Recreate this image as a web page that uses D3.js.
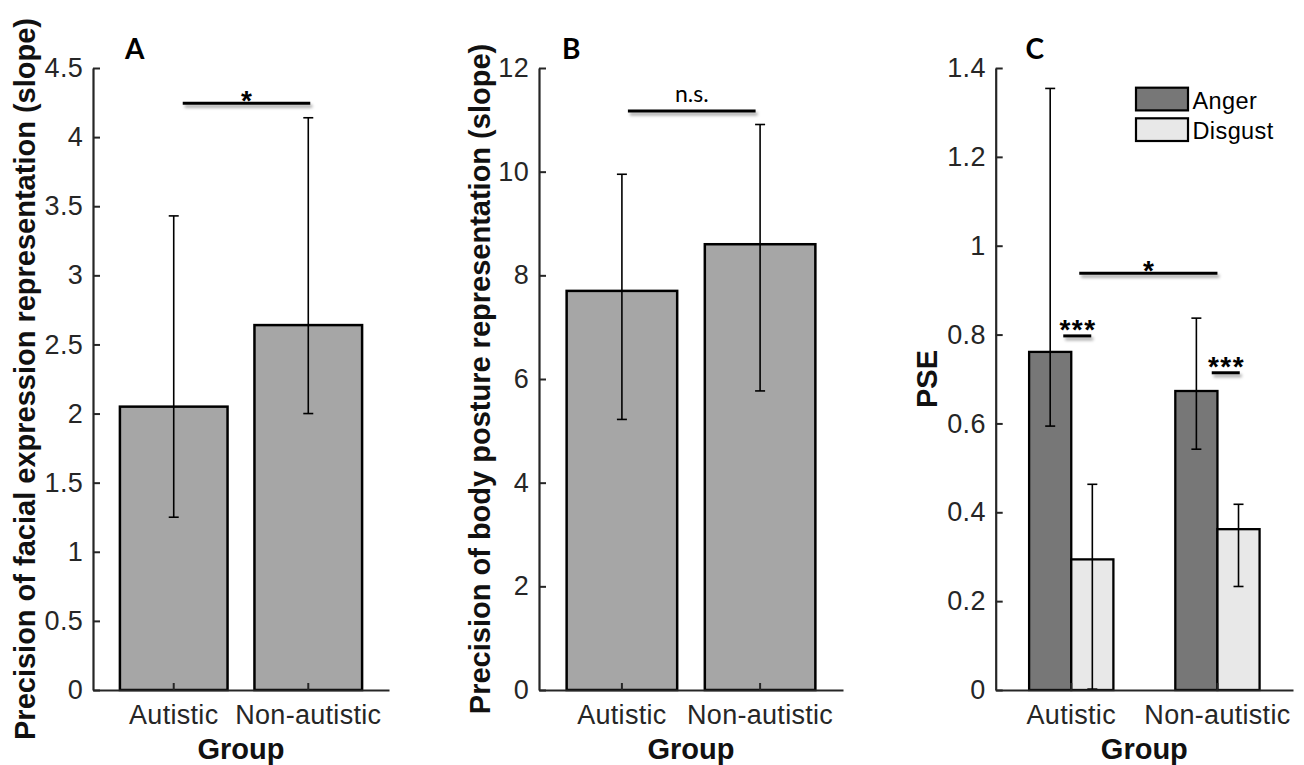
<!DOCTYPE html>
<html><head><meta charset="utf-8">
<script src="https://cdn.jsdelivr.net/npm/d3@7"></script>
<style>body{margin:0;background:#fff;} svg{display:block;}</style>
</head><body><svg id="chart" width="1304" height="765"></svg>
<script>
// ---------------- data ----------------
const groups = ["Autistic", "Non-autistic"];

const facialMean = [2.05, 2.64];
const facialLow  = [1.25, 2.00];
const facialHigh = [3.43, 4.14];
const facialTicks = [0, 0.5, 1, 1.5, 2, 2.5, 3, 3.5, 4, 4.5];
const facialTickLabels = ["0", "0.5", "1", "1.5", "2", "2.5", "3", "3.5", "4", "4.5"];
const facialSig = [{value: 4.245, label: "*"}];

const bodyMean = [7.70, 8.60];
const bodyLow  = [5.22, 5.77];
const bodyHigh = [9.95, 10.91];
const bodyTicks = [0, 2, 4, 6, 8, 10, 12];
const bodyTickLabels = ["0", "2", "4", "6", "8", "10", "12"];
const bodySig = [{value: 11.17, label: "n.s."}];

const emotions = ["Anger", "Disgust"];
const angerMean = [0.761, 0.673];
const angerLow  = [0.594, 0.542];
const angerHigh = [1.354, 0.837];
const disgustMean = [0.294, 0.362];
const disgustLow  = [0.002, 0.233];
const disgustHigh = [0.463, 0.418];
const pseTicks = [0, 0.2, 0.4, 0.6, 0.8, 1, 1.2, 1.4];
const pseTickLabels = ["0", "0.2", "0.4", "0.6", "0.8", "1", "1.2", "1.4"];
const pseSigBetween = [{value: 0.938, label: "*"}];
const pseSigWithin = [{group: "Autistic", value: 0.797, label: "***"},
                      {group: "Non-autistic", value: 0.714, label: "***"}];

// ---------------- style ----------------
const SANS = "'Liberation Sans', Arial, Helvetica, sans-serif";
const LETTER = "Lato, 'Open Sans', sans-serif";
const AXIS_COL = "#262626";
const BAR_GRAY = "#a6a6a6";
const EMO_COLORS = {"Anger": "#777777", "Disgust": "#e8e8e8"};

const svg = d3.select("#chart");
svg.append("rect").attr("width", 1304).attr("height", 765).attr("fill", "#fff");
const defs = svg.append("defs");
const f = defs.append("filter").attr("id", "shadow").attr("filterUnits", "userSpaceOnUse")
  .attr("x", 0).attr("y", 0).attr("width", 1304).attr("height", 765);
f.append("feDropShadow").attr("dx", 2).attr("dy", 3).attr("stdDeviation", 1.6)
  .attr("flood-color", "#000").attr("flood-opacity", 0.35);

const TOP = 68, BOTTOM = 690;

function errorBar(g, cx, y, lo, hi) {
  const cap = 5;
  g.append("line").attr("x1", cx).attr("x2", cx).attr("y1", y(lo)).attr("y2", y(hi))
    .attr("stroke", "#000").attr("stroke-width", 1.6);
  [lo, hi].forEach(v => g.append("line").attr("x1", cx - cap).attr("x2", cx + cap)
    .attr("y1", y(v)).attr("y2", y(v)).attr("stroke", "#000").attr("stroke-width", 1.6));
}

function sigLine(g, x1, x2, yy, label) {
  g.append("line").attr("x1", x1).attr("x2", x2).attr("y1", yy).attr("y2", yy)
    .attr("stroke", "#000").attr("stroke-width", 3).attr("filter", "url(#shadow)");
  const t = g.append("text").attr("x", (x1 + x2) / 2).attr("text-anchor", "middle").text(label);
  if (label === "n.s.") {
    t.attr("y", yy - 9.5).attr("font-family", LETTER).attr("font-size", 23).attr("fill", "#000");
  } else if (label.length > 1) {
    t.attr("x", (x1 + x2) / 2 + 0.8).attr("y", yy + 3.5).attr("font-family", SANS)
      .attr("font-weight", "bold").attr("font-size", 28).attr("letter-spacing", 1.5).attr("fill", "#000");
  } else {
    t.attr("y", yy + 6.5).attr("font-family", SANS).attr("font-weight", "bold")
      .attr("font-size", 28).attr("fill", "#000");
  }
}

function drawAxes(g, x, y, ticks, tickLabels, left, right, ylabel, ylabelX, letter) {
  const ya = g.append("g").attr("transform", `translate(${left},0)`)
    .call(d3.axisLeft(y).tickValues(ticks).tickFormat((d, i) => tickLabels[i])
      .tickSize(-7).tickSizeOuter(0).tickPadding(10));
  const xa = g.append("g").attr("transform", `translate(0,${BOTTOM})`)
    .call(d3.axisBottom(x).tickSize(-7).tickSizeOuter(0).tickPadding(15));
  [ya, xa].forEach(a => {
    a.select(".domain").attr("stroke", AXIS_COL).attr("stroke-width", 2.2);
    a.selectAll(".tick line").attr("stroke", AXIS_COL).attr("stroke-width", 2);
    a.selectAll(".tick text").attr("fill", AXIS_COL).attr("font-family", SANS)
      .attr("font-size", 27).attr("letter-spacing", 0.3);
  });
  g.append("text").attr("transform", `translate(${ylabelX},${(TOP + BOTTOM) / 2}) rotate(-90)`)
    .attr("text-anchor", "middle").attr("font-family", SANS).attr("font-weight", "bold")
    .attr("font-size", 29).attr("fill", "#111").text(ylabel);
  g.append("text").attr("x", (left + right) / 2).attr("y", 759).attr("text-anchor", "middle")
    .attr("font-family", SANS).attr("font-weight", "bold").attr("font-size", 29)
    .attr("fill", "#111").text("Group");
  g.append("text").attr("x", letter.x).attr("y", 59).attr("font-family", LETTER)
    .attr("font-weight", "bold").attr("font-size", 28).attr("fill", "#000").text(letter.t);
}

function simplePanel(left, right, mean, low, high, ticks, tickLabels, sig, ylabel, ylabelX, letter, sigOff) {
  const g = svg.append("g");
  const x = d3.scaleBand().domain(groups).range([left, right]).paddingInner(0.2).paddingOuter(0.2);
  const y = d3.scaleLinear().domain([ticks[0], ticks[ticks.length - 1]]).range([BOTTOM, TOP]);
  groups.forEach((grp, i) => {
    g.append("rect").attr("x", x(grp)).attr("y", y(mean[i]))
      .attr("width", x.bandwidth()).attr("height", y(0) - y(mean[i]))
      .attr("fill", BAR_GRAY).attr("stroke", "#000").attr("stroke-width", 2.5);
  });
  groups.forEach((grp, i) => errorBar(g, x(grp) + x.bandwidth() / 2, y, low[i], high[i]));
  sig.forEach(s => {
    const x1 = x(groups[0]) + x.bandwidth() / 2 + sigOff[0];
    const x2 = x(groups[1]) + x.bandwidth() / 2 + sigOff[1];
    sigLine(g, x1, x2, y(s.value), s.label);
  });
  drawAxes(g, x, y, ticks, tickLabels, left, right, ylabel, ylabelX, letter);
}

simplePanel(93, 389, facialMean, facialLow, facialHigh, facialTicks, facialTickLabels, facialSig,
  "Precision of facial expression representation (slope)", 35, {x: 125, t: "A"}, [9, 2]);
simplePanel(539, 843, bodyMean, bodyLow, bodyHigh, bodyTicks, bodyTickLabels, bodySig,
  "Precision of body posture representation (slope)", 489.5, {x: 562, t: "B"}, [6, -4.5]);

// ---------------- panel C ----------------
(function () {
  const left = 995.7, right = 1293;
  const g = svg.append("g");
  const x = d3.scaleBand().domain(groups).range([left, right]).paddingInner(0.4235).paddingOuter(0.2286);
  const xs = d3.scaleBand().domain(emotions).range([0, x.bandwidth()]);
  const y = d3.scaleLinear().domain([pseTicks[0], pseTicks[pseTicks.length - 1]]).range([BOTTOM, TOP]);
  const series = {
    "Anger": {mean: angerMean, low: angerLow, high: angerHigh},
    "Disgust": {mean: disgustMean, low: disgustLow, high: disgustHigh}
  };
  emotions.forEach(em => groups.forEach((grp, i) => {
    const v = series[em].mean[i];
    g.append("rect").attr("x", x(grp) + xs(em)).attr("y", y(v))
      .attr("width", xs.bandwidth()).attr("height", y(0) - y(v))
      .attr("fill", EMO_COLORS[em]).attr("stroke", "#000").attr("stroke-width", 2.3);
  }));
  emotions.forEach(em => groups.forEach((grp, i) => {
    errorBar(g, x(grp) + xs(em) + xs.bandwidth() / 2, y, series[em].low[i], series[em].high[i]);
  }));
  const gc = grp => x(grp) + x.bandwidth() / 2;
  pseSigBetween.forEach(s => sigLine(g, gc(groups[0]) + 8, gc(groups[1]), y(s.value), s.label));
  pseSigWithin.forEach(s => {
    const c = gc(s.group) + (s.group === groups[0] ? 6 : 8.3);
    sigLine(g, c - 14, c + 14, y(s.value), s.label);
  });
  drawAxes(g, x, y, pseTicks, pseTickLabels, left, right, "PSE", 936.7, {x: 1025.5, t: "C"});

  // legend
  const lg = svg.append("g");
  emotions.forEach((em, i) => {
    lg.append("rect").attr("x", 1136).attr("y", 87.7 + i * 30.6).attr("width", 52).attr("height", 22.7)
      .attr("fill", EMO_COLORS[em]).attr("stroke", "#000").attr("stroke-width", 2.2);
    lg.append("text").attr("x", 1192.5).attr("y", 108.5 + i * 30)
      .attr("font-family", SANS).attr("font-size", 23.5).attr("letter-spacing", 0.4)
      .attr("fill", "#000").text(em);
  });
})();
</script></body></html>
